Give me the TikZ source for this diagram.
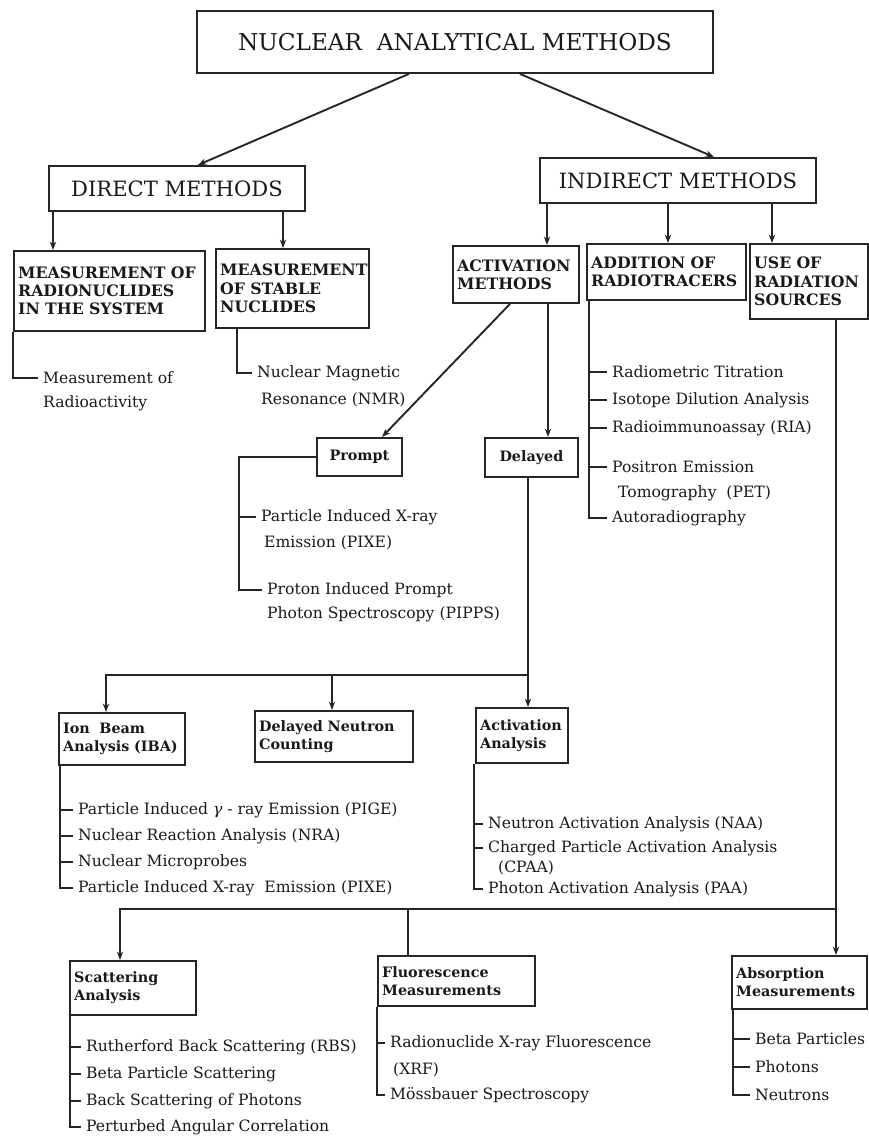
\documentclass[tikz,border=0pt]{standalone}
\usepackage{fontspec}
\setmainfont{DejaVu Serif}
\usetikzlibrary{arrows.meta,calc}
\tikzset{
box/.style 2 args={draw,anchor=north west,inner sep=0pt,minimum width=#1*.025cm,minimum height=#2*.025cm,align=center},
lbox/.style 2 args={draw,anchor=north west,inner xsep=3pt,inner ysep=0pt,text width=#1*.025cm-6pt,minimum height=#2*.025cm,align=left},
big/.style={font=\fontsize{16.5}{20}\selectfont},
mid/.style={font=\fontsize{15}{18}\selectfont},
caps/.style={font=\fontsize{11.2}{13}\bfseries\selectfont},
low/.style={font=\fontsize{10.2}{12.6}\bfseries\selectfont},
item/.style={anchor=west,inner xsep=3pt,inner ysep=1pt,font=\fontsize{11.1}{12}\selectfont},
arr/.style={-{Stealth[length=6pt,width=4.5pt]}},
}
\begin{document}
\begin{tikzpicture}[x=.025cm,y=-.025cm,line width=1.35pt,draw=black!85,text=black!90]
\useasboundingbox(0,0)rectangle(869,1139);
% boxes
\node[box={516}{62},big](top)at(196,10){NUCLEAR~~ANALYTICAL METHODS};
\node[box={256}{45},mid](dir)at(48,165){DIRECT~METHODS};
\node[box={276}{45},mid](ind)at(539,157){INDIRECT~METHODS};
\node[lbox={191}{80},caps](rad)at(13,250){MEASUREMENT~OF\\RADIONUCLIDES\\IN~THE~SYSTEM};
\node[lbox={153}{79},caps](stab)at(215,248){MEASUREMENT\\OF~STABLE\\NUCLIDES};
\node[lbox={126}{57},caps](act)at(452,245){ACTIVATION\\METHODS};
\node[lbox={159}{56},caps](add)at(586,243){ADDITION~OF\\RADIOTRACERS};
\node[lbox={118}{75},caps](use)at(749,243){USE~OF\\RADIATION\\SOURCES};
\node[box={85}{38},low](prompt)at(316,437){Prompt};
\node[box={93}{39},low](del)at(484,437){Delayed};
\node[lbox={126}{52},low](iba)at(58,712){Ion~~Beam\\Analysis~(IBA)};
\node[lbox={158}{51},low](dn)at(254,710){Delayed~Neutron\\Counting};
\node[lbox={92}{55},low](aa)at(475,707){Activation\\Analysis};
\node[lbox={126}{54},low](sca)at(69,960){Scattering\\Analysis};
\node[lbox={157}{50},low](flu)at(377,955){Fluorescence\\Measurements};
\node[lbox={135}{53},low](absm)at(731,955){Absorption\\Measurements};
% items
\node[item](ma)at(38,378){Measurement of};
\node[item](mb)at(38,403){Radioactivity};
\node[item](na)at(252,373){Nuclear Magnetic};
\node[item](nb)at(256,400){Resonance (NMR)};
\node[item](pa)at(256,517){Particle Induced X-ray};
\node[item](pb)at(259,543){Emission (PIXE)};
\node[item](pc)at(262,590){Proton Induced Prompt};
\node[item](pd)at(262,614){Photon Spectroscopy (PIPPS)};
\node[item](ta)at(607,372){Radiometric Titration};
\node[item](tb)at(607,400){Isotope Dilution Analysis};
\node[item](tc)at(607,428){Radioimmunoassay (RIA)};
\node[item](td)at(607,467){Positron Emission};
\node[item](te)at(613,493){Tomography\ \ (PET)};
\node[item](tf)at(607,518){Autoradiography};
\node[item](ia)at(73,810){Particle Induced \textit{γ} - ray Emission (PIGE)};
\node[item](ib)at(73,836){Nuclear Reaction Analysis (NRA)};
\node[item](ic)at(73,862){Nuclear Microprobes};
\node[item](id)at(73,888){Particle Induced X-ray\ \ Emission (PIXE)};
\node[item](ca)at(483,824){Neutron Activation Analysis (NAA)};
\node[item](cb)at(483,848){Charged Particle Activation Analysis};
\node[item](cc)at(493,868){(CPAA)};
\node[item](cd)at(483,889){Photon Activation Analysis (PAA)};
\node[item](sa)at(81,1047){Rutherford Back Scattering (RBS)};
\node[item](sb)at(81,1074){Beta Particle Scattering};
\node[item](sc)at(81,1101){Back Scattering of Photons};
\node[item](sd)at(81,1127){Perturbed Angular Correlation};
\node[item](fa)at(385,1043){Radionuclide X-ray Fluorescence};
\node[item](fb)at(388,1070){(XRF)};
\node[item](fc)at(385,1095){Mössbauer Spectroscopy};
\node[item](ba)at(750,1039){Beta Particles};
\node[item](bb)at(750,1067){Photons};
\node[item](bc)at(750,1095){Neutrons};
% connectors
\draw[arr]($(top.south)+(-46,0)$)--($(dir.north)+(21,0)$);
\draw[arr]($(top.south)+(65,0)$)--($(ind.north)+(36,0)$);
\draw[arr](53,0|-dir.south)--(53,0|-rad.north);
\draw[arr](283,0|-dir.south)--(283,0|-stab.north);
\draw[arr](547,0|-ind.south)--(547,0|-act.north);
\draw[arr](668,0|-ind.south)--(668,0|-add.north);
\draw[arr](772,0|-ind.south)--(772,0|-use.north);
\draw(rad.south west)|-(ma.west);
\draw($(stab.south west)+(22,0)$)|-(na.west);
\draw[arr](510,0|-act.south)--(382,0|-prompt.north);
\draw[arr](548,0|-act.south)--(548,0|-del.north);
\draw(prompt.west)-|(239,0|-pc.west)--(pc.west);
\draw(pa.west)--(239,0|-pa.west);
\draw($(add.south west)+(3,0)$)|-(tf.west);
\foreach \n in {ta,tb,tc,td}\draw(\n.west)--(589,0|-\n.west);
\coordinate(j1)at(528,675);
\draw[arr](528,0|-del.south)--(528,0|-aa.north);
\draw[arr](j1)-|(106,0|-iba.north);
\draw[arr](j1-|332,0)--(332,0|-dn.north);
\draw($(iba.south west)+(2,0)$)|-(id.west);
\foreach \n in {ia,ib,ic}\draw(\n.west)--(60,0|-\n.west);
\draw($(aa.south west)+(-1,0)$)|-(cd.west);
\foreach \n in {ca,cb}\draw(\n.west)--(474,0|-\n.west);
\coordinate(j2)at(836,909);
\draw[arr](836,0|-use.south)--(836,0|-absm.north);
\draw[arr](j2)-|(120,0|-sca.north);
\draw(j2-|408,0)--(408,0|-flu.north);
\draw($(sca.south west)+(1,0)$)|-(sd.west);
\foreach \n in {sa,sb,sc}\draw(\n.west)--(70,0|-\n.west);
\draw(flu.south west)|-(fc.west);
\draw(fa.west)--(377,0|-fa.west);
\draw($(absm.south west)+(2,0)$)|-(bc.west);
\foreach \n in {ba,bb}\draw(\n.west)--(733,0|-\n.west);
\end{tikzpicture}
\end{document}
